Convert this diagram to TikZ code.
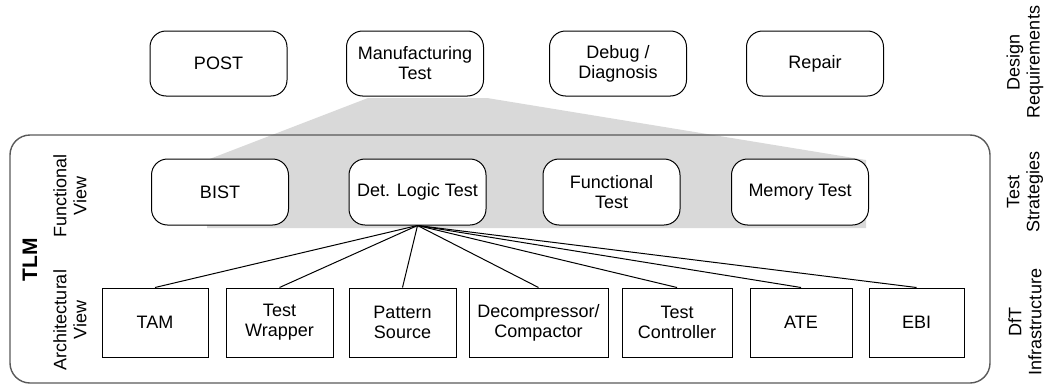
\documentclass[tikz,border=0pt]{standalone}
\usepackage{fontspec}
\setmainfont{Liberation Sans}
\begin{document}
\begin{tikzpicture}[x=1pt,y=-1pt,
    every node/.style={font=\fontsize{18}{20}\selectfont, align=center, inner sep=0pt},
    req/.style={draw, fill=white, rounded corners=16pt, line width=1pt, minimum width=137pt, minimum height=65pt},
    strat/.style={req, minimum height=66pt},
    infra/.style={draw, fill=white, line width=1pt, minimum height=69pt},
    side/.style={rotate=90}]
    \useasboundingbox (0,0) rectangle (1046,388);

    % the zoom from manufacturing test down to the strategies
    \fill[black!15] (368,98) -- (487,98) -- (866,160) -- (866,228) -- (207,228) -- (207,160) -- cycle;
    \draw[black!65, line width=1.4pt, rounded corners=20pt] (10,135) rectangle (990,383);

    \node[req] (POST) at (218.5,63.5) {POST};
    \node[req] (MT) at (415,63.5) {Manufacturing\\Test};
    \node[req] (DD) at (618,63.5) {Debug /\\Diagnosis};
    \node[req] (RP) at (815,63.5) {Repair};

    \node[strat] (BIST) at (220,192) {BIST};
    \node[strat] (DLT) at (417.5,192) {Det. Logic Test};
    \node[strat] (FT) at (611.5,192) {Functional\\Test};
    \node[strat] (MEM) at (800,192) {Memory Test};

    \node[infra, minimum width=106pt] (TAM) at (155,322.5) {TAM};
    \node[infra, minimum width=107pt] (TW) at (279.5,322.5) {Test\\Wrapper};
    \node[infra, minimum width=107pt] (PS) at (402.5,322.5) {Pattern\\Source};
    \node[infra, minimum width=139pt] (DC) at (538.5,322.5) {Decompressor/\\Compactor};
    \node[infra, minimum width=110pt] (TC) at (677,322.5) {Test\\Controller};
    \node[infra, minimum width=102pt] (ATE) at (801,322.5) {ATE};
    \node[infra, minimum width=95pt] (EBI) at (916.5,322.5) {EBI};

    \foreach \b in {TAM,TW,PS,DC,TC,ATE,EBI}
        \draw[line width=1pt] (DLT.south) -- (\b.north);

    \node[side, font=\fontsize{21}{24}\selectfont\bfseries] (TLM) at (30,260) {TLM};
    \node[side] (FV) at (70,196) {Functional\\View};
    \node[side] (AV) at (70,320) {Architectural\\View};

    \node[side] (DR) at (1025,62) {Design\\Requirements};
    \node[side] (TS) at (1025,192) {Test\\Strategies};
    \node[side] (DI) at (1025,322) {DfT\\Infrastructure};
\end{tikzpicture}
\end{document}
